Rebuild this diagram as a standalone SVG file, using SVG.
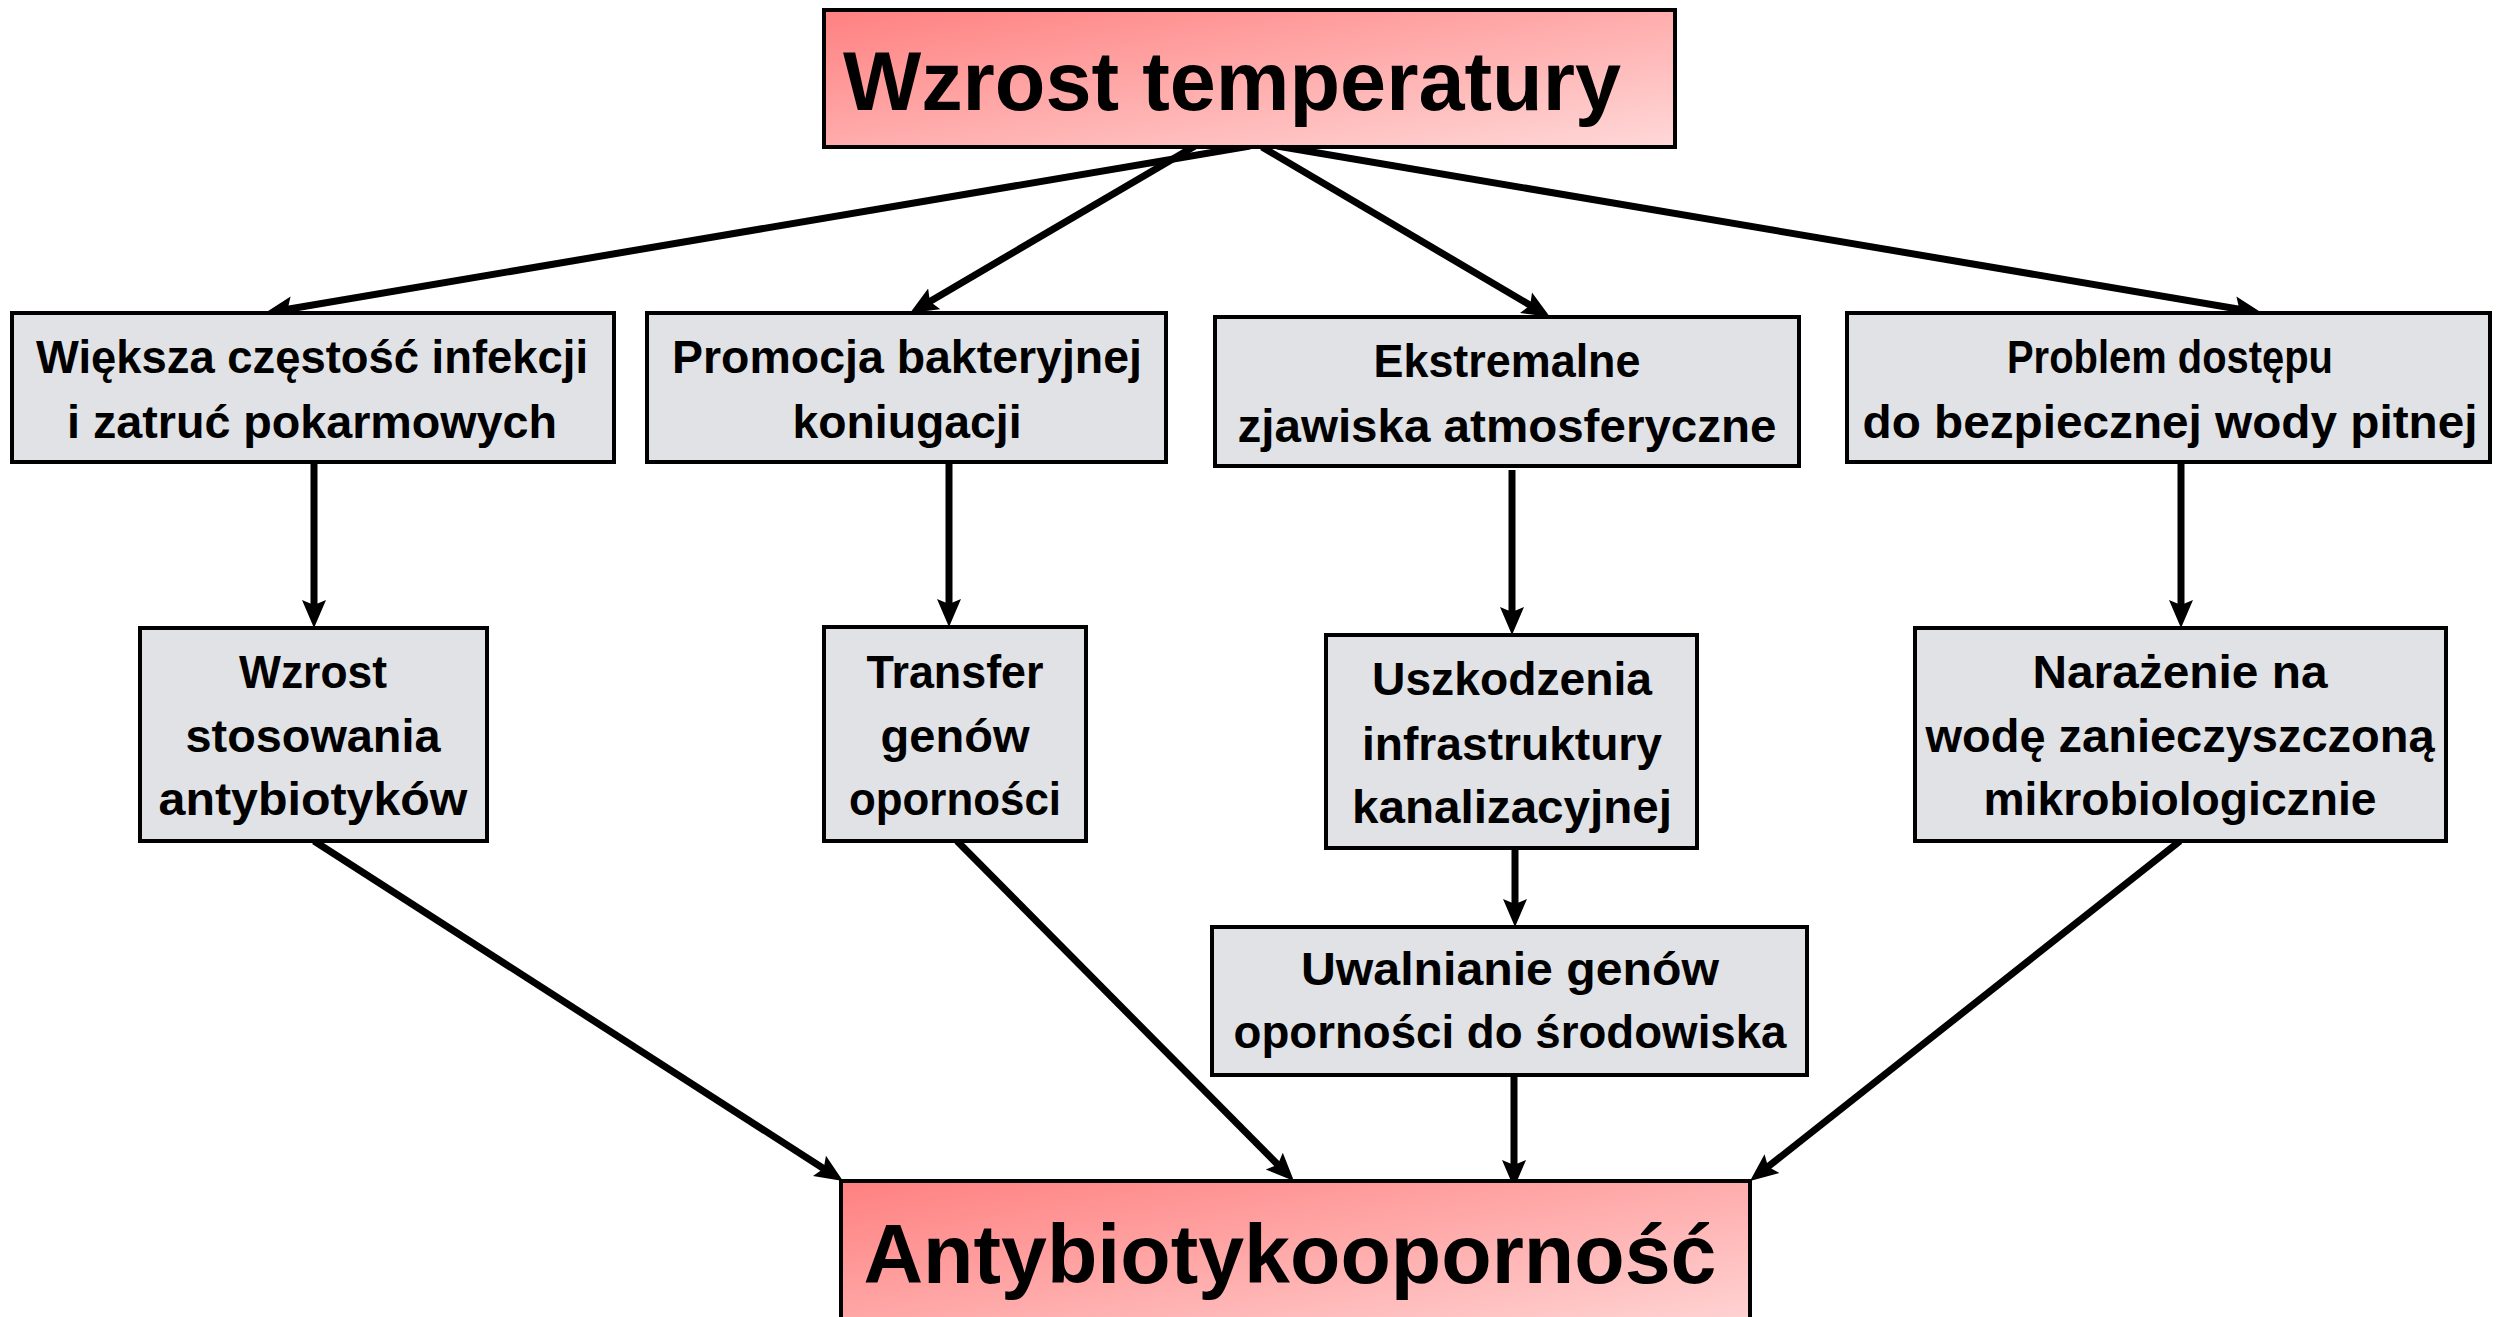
<svg xmlns="http://www.w3.org/2000/svg" width="2496" height="1317" viewBox="0 0 2496 1317">
<defs>
<linearGradient id="pink" x1="0" y1="0" x2="1" y2="1">
<stop offset="0" stop-color="#FF8080"/>
<stop offset="1" stop-color="#FFD8D8"/>
</linearGradient>
<marker id="ah" markerUnits="userSpaceOnUse" markerWidth="30" markerHeight="26" viewBox="0 0 30 26" refX="8" refY="13" orient="auto">
<path d="M0,1 L28,13 L0,25 L5,13 z" fill="#000"/>
</marker>
<style>
.box{fill:#E0E2E5;stroke:#000;stroke-width:4}
.main{fill:url(#pink);stroke:#000;stroke-width:4}
text{font-family:"Liberation Sans",Arial,sans-serif;font-weight:bold;fill:#000;text-anchor:middle}
.t{font-size:46px}
.big{font-size:84px}
.c{stroke:#000;stroke-width:7;fill:none;marker-end:url(#ah)}
</style>
</defs>
<rect width="2496" height="1317" fill="#fff"/>
<g id="connectors">
<line class="c" x1="1250" y1="146" x2="284.7" y2="309.7"/>
<line class="c" x1="1195" y1="146" x2="927.3" y2="302.9"/>
<line class="c" x1="1262" y1="147" x2="1532.8" y2="306.8"/>
<line class="c" x1="1277" y1="146" x2="2242.3" y2="309.7"/>
<line class="c" x1="314" y1="462" x2="314" y2="608"/>
<line class="c" x1="949" y1="462" x2="949" y2="607"/>
<line class="c" x1="1512" y1="470" x2="1512" y2="615"/>
<line class="c" x1="1515" y1="848" x2="1515" y2="907"/>
<line class="c" x1="2181" y1="462" x2="2181" y2="608"/>
<line class="c" x1="314" y1="841" x2="826.2" y2="1170.2"/>
<line class="c" x1="957" y1="841" x2="1279.9" y2="1166.8"/>
<line class="c" x1="1514" y1="1076" x2="1514" y2="1168"/>
<line class="c" x1="2180" y1="841" x2="1765.7" y2="1168.6"/>
</g>
<g id="top">
<rect class="main" x="824" y="10" width="851" height="137"/>
<text class="big" x="1232" y="110" textLength="778" lengthAdjust="spacingAndGlyphs">Wzrost temperatury</text>
</g>
<g id="bottom">
<rect class="main" x="841" y="1181" width="909" height="160"/>
<text class="big" x="1290" y="1283" font-size="85" textLength="853" lengthAdjust="spacingAndGlyphs">Antybiotykooporność</text>
</g>
<g id="nodeA">
<rect class="box" x="12" y="313" width="602" height="149"/>
<text class="t" x="312" y="373" textLength="552" lengthAdjust="spacingAndGlyphs">Większa częstość infekcji</text>
<text class="t" x="312" y="438" textLength="490" lengthAdjust="spacingAndGlyphs">i zatruć pokarmowych</text>
</g>
<g id="nodeB">
<rect class="box" x="647" y="313" width="519" height="149"/>
<text class="t" x="907" y="373" textLength="470" lengthAdjust="spacingAndGlyphs">Promocja bakteryjnej</text>
<text class="t" x="907" y="438" textLength="229" lengthAdjust="spacingAndGlyphs">koniugacji</text>
</g>
<g id="nodeC">
<rect class="box" x="1215" y="317" width="584" height="149"/>
<text class="t" x="1507" y="377" textLength="267" lengthAdjust="spacingAndGlyphs">Ekstremalne</text>
<text class="t" x="1507" y="442" textLength="539" lengthAdjust="spacingAndGlyphs">zjawiska atmosferyczne</text>
</g>
<g id="nodeD">
<rect class="box" x="1847" y="313" width="643" height="149"/>
<text class="t" x="2170" y="373" textLength="326" lengthAdjust="spacingAndGlyphs">Problem dostępu</text>
<text class="t" x="2170" y="438" textLength="615" lengthAdjust="spacingAndGlyphs">do bezpiecznej wody pitnej</text>
</g>
<g id="nodeE">
<rect class="box" x="140" y="628" width="347" height="213"/>
<text class="t" x="313" y="688" textLength="148" lengthAdjust="spacingAndGlyphs">Wzrost</text>
<text class="t" x="313" y="752" textLength="255" lengthAdjust="spacingAndGlyphs">stosowania</text>
<text class="t" x="313" y="815" textLength="309" lengthAdjust="spacingAndGlyphs">antybiotyków</text>
</g>
<g id="nodeF">
<rect class="box" x="824" y="627" width="262" height="214"/>
<text class="t" x="955" y="688" textLength="177" lengthAdjust="spacingAndGlyphs">Transfer</text>
<text class="t" x="955" y="752" textLength="149" lengthAdjust="spacingAndGlyphs">genów</text>
<text class="t" x="955" y="815" textLength="212" lengthAdjust="spacingAndGlyphs">oporności</text>
</g>
<g id="nodeG">
<rect class="box" x="1326" y="635" width="371" height="213"/>
<text class="t" x="1512" y="695" textLength="280" lengthAdjust="spacingAndGlyphs">Uszkodzenia</text>
<text class="t" x="1512" y="760" textLength="300" lengthAdjust="spacingAndGlyphs">infrastruktury</text>
<text class="t" x="1512" y="823" textLength="320" lengthAdjust="spacingAndGlyphs">kanalizacyjnej</text>
</g>
<g id="nodeH">
<rect class="box" x="1212" y="927" width="595" height="148"/>
<text class="t" x="1510" y="985" textLength="418" lengthAdjust="spacingAndGlyphs">Uwalnianie genów</text>
<text class="t" x="1510" y="1048" textLength="553" lengthAdjust="spacingAndGlyphs">oporności do środowiska</text>
</g>
<g id="nodeI">
<rect class="box" x="1915" y="628" width="531" height="213"/>
<text class="t" x="2180" y="688" textLength="295" lengthAdjust="spacingAndGlyphs">Narażenie na</text>
<text class="t" x="2180" y="752" textLength="509" lengthAdjust="spacingAndGlyphs">wodę zanieczyszczoną</text>
<text class="t" x="2180" y="815" textLength="393" lengthAdjust="spacingAndGlyphs">mikrobiologicznie</text>
</g>
</svg>
